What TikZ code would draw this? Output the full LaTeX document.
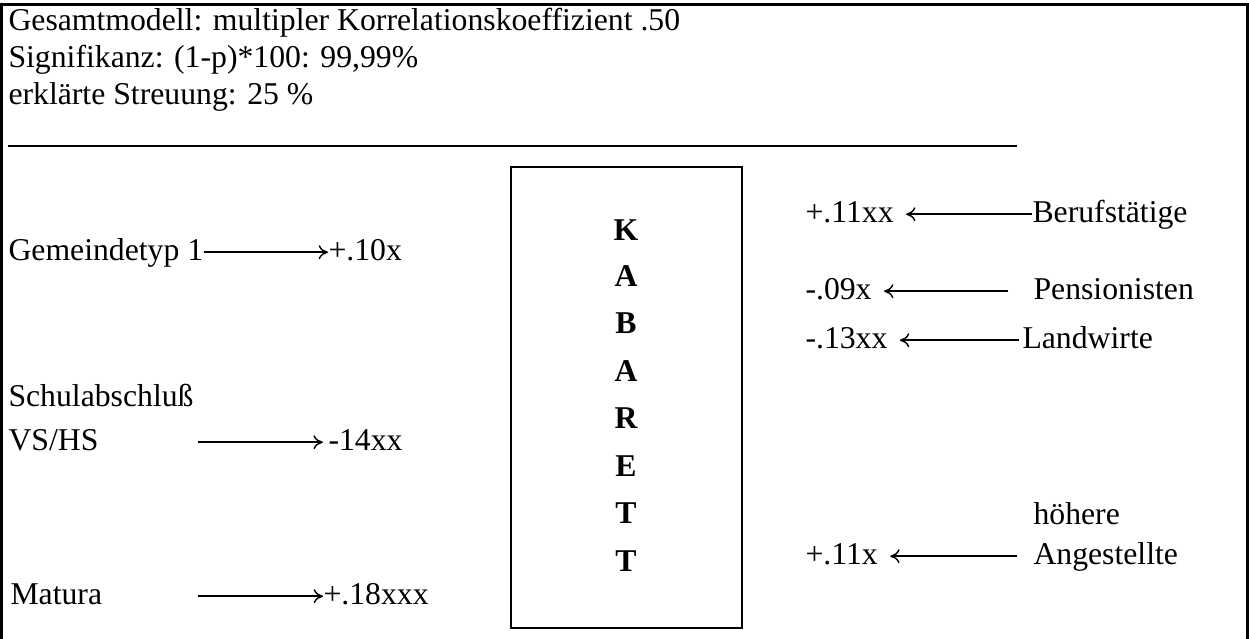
\documentclass[tikz,border=0pt]{standalone}
\usepackage{fontspec}
\setmainfont{Liberation Serif}
\usetikzlibrary{arrows.meta}
\begin{document}
\begin{tikzpicture}[x=0.3846pt,y=-0.3846pt,
  txt/.style={inner sep=0pt, anchor=base west, font=\fontsize{12.2}{14}\selectfont},
  letter/.style={inner sep=0pt, anchor=base, font=\fontsize{12.2}{14}\selectfont\bfseries},
  arr/.style={-{To[length=3.6pt,width=5.4pt]}, line width=0.55pt},
  frameline/.style={line width=1.15pt},
  boxline/.style={line width=0.8pt}]
\useasboundingbox (0,0) rectangle (1249,639);
% outer frame (open at the bottom)
\draw[frameline] (1.5,639) -- (1.5,4.5) -- (1247.5,4.5) -- (1247.5,639);
% header
\node[txt] (h1) at (8,31) {Gesamtmodell: multipler Korrelationskoeffizient .50};
\node[txt] (h2) at (8,68) {Signifikanz: (1-p)*100: 99,99\%};
\node[txt] (h3) at (8,104) {erklärte Streuung: 25 \%};
\draw[line width=0.6pt] (8,146) -- (1017,146);
% central box
\draw[boxline] (511,167) rectangle (742,628);
\node[letter] (k1) at (626,240) {K};
\node[letter] (k2) at (626,286) {A};
\node[letter] (k3) at (626,333) {B};
\node[letter] (k4) at (626,381) {A};
\node[letter] (k5) at (626,428) {R};
\node[letter] (k6) at (626,476) {E};
\node[letter] (k7) at (626,523) {T};
\node[letter] (k8) at (626,571) {T};
% left side
\node[txt] (g) at (8,260) {Gemeindetyp 1};
\node[txt] (gv) at (328,260) {+.10x};
\draw[arr] ([yshift=3pt]g.base east) -- ([yshift=3pt]gv.base west);
\node[txt] (s1) at (8,406) {Schulabschluß};
\node[txt] (s2) at (8,450) {VS/HS};
\node[txt] (sv) at (328,450) {-14xx};
\draw[arr, shorten <=38pt, shorten >=2pt] ([yshift=3pt]s2.base east) -- ([yshift=3pt]sv.base west);
\node[txt] (m) at (10,604) {Matura};
\node[txt] (mv) at (323,604) {+.18xxx};
\draw[arr, shorten <=36.5pt] ([yshift=3pt]m.base east) -- ([yshift=3pt]mv.base west);
% right side
\node[txt] (bv) at (805,222) {+.11xx};
\node[txt] (b) at (1032,222) {Berufstätige};
\draw[arr, shorten >=4.6pt] ([yshift=3pt]b.base west) -- ([yshift=3pt]bv.base east);
\node[txt] (pv) at (805,299) {-.09x};
\node[txt] (p) at (1033,299) {Pensionisten};
\draw[arr, shorten <=9.6pt, shorten >=4.6pt] ([yshift=3pt]p.base west) -- ([yshift=3pt]pv.base east);
\node[txt] (lv) at (805,348) {-.13xx};
\node[txt] (l) at (1022,348) {Landwirte};
\draw[arr, shorten <=1pt, shorten >=4.6pt] ([yshift=3pt]l.base west) -- ([yshift=3pt]lv.base east);
\node[txt] (a1) at (1033,524) {höhere};
\node[txt] (av) at (805,564) {+.11x};
\node[txt] (a2) at (1033,564) {Angestellte};
\draw[arr, shorten <=6.2pt, shorten >=4.6pt] ([yshift=3pt]a2.base west) -- ([yshift=3pt]av.base east);
\end{tikzpicture}
\end{document}
